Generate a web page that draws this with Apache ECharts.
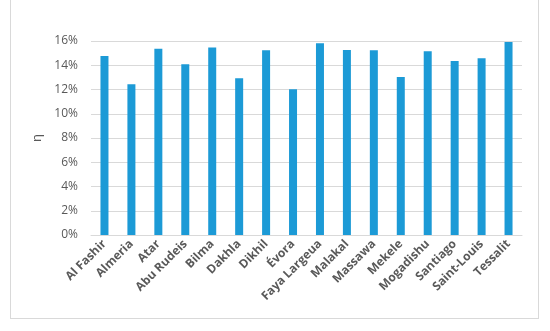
<!DOCTYPE html>
<html>
<head>
<meta charset="utf-8">
<script src="https://cdn.jsdelivr.net/npm/echarts@6/dist/echarts.min.js"></script>
<style>
  html, body { margin: 0; padding: 0; background: #fff; }
  #frame { position: absolute; left: 10px; top: -2px; width: 529px; height: 321px; border: 1px solid #d9d9d9; box-sizing: border-box; }
  #chart { position: absolute; left: 0; top: 0; width: 550px; height: 331px; }
</style>
</head>
<body>
<div id="frame"></div>
<div id="chart"></div>
<script>
// stations and efficiency values (%)
var stations = ['Al Fashir', 'Almeria', 'Atar', 'Abu Rudeis', 'Bilma', 'Dakhla', 'Dikhil', 'Évora',
  'Faya Largeua', 'Malakal', 'Massawa', 'Mekele', 'Mogadishu', 'Santiago', 'Saint-Louis', 'Tessalit'];
var eta = [14.76, 12.43, 15.37, 14.08, 15.46, 12.92, 15.23, 12.02,
  15.81, 15.26, 15.23, 13.03, 15.15, 14.35, 14.57, 15.92];

var chart = echarts.init(document.getElementById('chart'));
var labelColor = '#595959';
var font = '"Open Sans", "Liberation Sans", sans-serif';

chart.setOption({
  animation: false,
  grid: { left: 91, right: 28, top: 41, bottom: 96 },
  xAxis: {
    type: 'category',
    data: stations,
    axisLine: { lineStyle: { color: '#d9d9d9', width: 1 } },
    axisTick: { show: false },
    axisLabel: {
      rotate: 45, interval: 0, color: labelColor, fontWeight: 'bold',
      fontSize: 12, fontFamily: font, margin: 7
    }
  },
  yAxis: {
    type: 'value',
    min: 0, max: 16, interval: 2,
    name: 'η',
    nameLocation: 'middle',
    nameGap: 37,
    nameRotate: 90,
    nameTextStyle: { color: labelColor, fontSize: 13, fontFamily: font },
    axisLine: { show: false },
    axisTick: { show: false },
    splitLine: { lineStyle: { color: '#d9d9d9', width: 1 } },
    axisLabel: {
      color: labelColor, fontSize: 12, fontFamily: font, margin: 13,
      formatter: function (v) { return v + '%'; }
    }
  },
  series: [{
    type: 'bar',
    data: eta,
    barWidth: 8,
    itemStyle: { color: '#1c9ad6' }
  }]
});
</script>
</body>
</html>
